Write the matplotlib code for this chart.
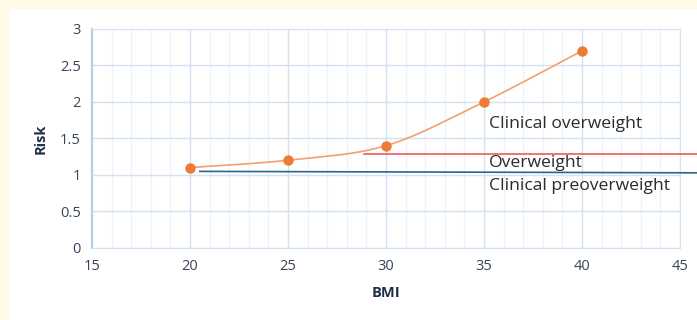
import matplotlib.pyplot as plt
from matplotlib.path import Path
from matplotlib.patches import PathPatch, Rectangle
from matplotlib.ticker import MultipleLocator

bmi = [20, 25, 30, 35, 40]
risk = [1.1, 1.2, 1.4, 2.0, 2.7]

# reference lines: (x0, x1), (y0, y1)
overweight_x = [28.9, 45.9]
overweight_y = [1.29, 1.29]
preover_x = [20.5, 45.9]
preover_y = [1.047, 1.027]

labels = ["Clinical overweight", "Overweight", "Clinical preoverweight"]
label_y = [1.70, 1.16, 0.85]
label_x = 35.25

xticks = [15, 20, 25, 30, 35, 40, 45]
yticks = [0, 0.5, 1, 1.5, 2, 2.5, 3]


def smooth_path(xs, ys, t=1 / 6):
    # Bezier through the points, like a spreadsheet "smoothed line"
    pts = list(zip(xs, ys))
    verts = [pts[0]]
    codes = [Path.MOVETO]
    n = len(pts)
    for i in range(n - 1):
        p0 = pts[i - 1] if i > 0 else pts[i]
        p1 = pts[i]
        p2 = pts[i + 1]
        p3 = pts[i + 2] if i + 2 < n else pts[i + 1]
        c1 = (p1[0] + (p2[0] - p0[0]) * t, p1[1] + (p2[1] - p0[1]) * t)
        c2 = (p2[0] - (p3[0] - p1[0]) * t, p2[1] - (p3[1] - p1[1]) * t)
        verts += [c1, c2, p2]
        codes += [Path.CURVE4] * 3
    return Path(verts, codes)


plt.rcParams['font.family'] = ['Open Sans', 'DejaVu Sans']

fig = plt.figure(figsize=(6.97, 3.2), dpi=100, facecolor='#fff9e6')
fig.patches.append(Rectangle((9 / 697, 0), 1, 1 - 9 / 320, transform=fig.transFigure,
                             facecolor='white', edgecolor='none', zorder=-10))

ax = fig.add_axes([92 / 697, 1 - 247.7 / 320, 588 / 697, 218.7 / 320])
ax.set_facecolor('white')
ax.set_xlim(15, 45)
ax.set_ylim(0, 3)
ax.set_xticks(xticks)
ax.set_yticks(yticks)
ax.set_xticklabels([str(v) for v in xticks])
ax.set_yticklabels([f"{v:g}" for v in yticks])
ax.xaxis.set_minor_locator(MultipleLocator(1))
ax.grid(which='major', color='#d3e2f2', lw=1)
ax.grid(which='minor', axis='x', color='#edf3fa', lw=1)
ax.set_axisbelow(True)
for s in ax.spines.values():
    s.set_color('#d3e2f2')
ax.spines['left'].set_color('#b5cfea')
ax.spines['left'].set_linewidth(1.6)
ax.tick_params(which='both', length=0, labelsize=10.5, colors='#374456', pad=8)

ax.add_patch(PathPatch(smooth_path(bmi, risk), facecolor='none',
                       edgecolor='#f4a06a', lw=1.2, zorder=3))
ax.plot(bmi, risk, 'o', color='#ee7b33', ms=6.5, zorder=4)

ax.plot(overweight_x, overweight_y, color='#f05a5a', lw=1.2, clip_on=False, zorder=3)
ax.plot(preover_x, preover_y, color='#2e6584', lw=1.2, clip_on=False, zorder=3)

for txt, y in zip(labels, label_y):
    ax.text(label_x, y, txt, fontsize=12.6, color='#2b2b2b', va='center', ha='left')

ax.set_xlabel('BMI', fontsize=10.5, fontweight='bold', color='#1f2f48', labelpad=9)
ax.set_ylabel('Risk', fontsize=10.5, fontweight='bold', color='#1f2f48', labelpad=9)

fig.savefig('out.png', dpi=100, facecolor=fig.get_facecolor())
